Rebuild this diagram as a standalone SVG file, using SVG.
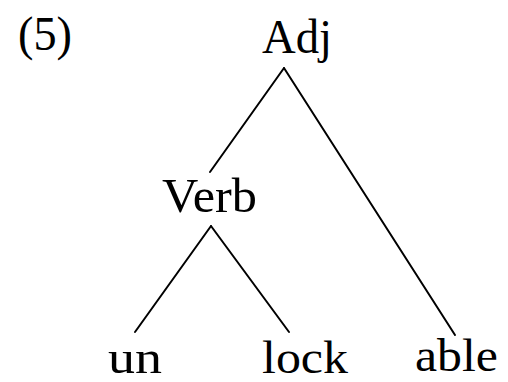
<svg xmlns="http://www.w3.org/2000/svg" width="508" height="382" viewBox="0 0 508 382">
  <style>
    text { font-family: "Liberation Serif", "DejaVu Serif", serif; font-size: 48px; fill: #000; }
    .leaf { font-size: 46px; }
    .edge { stroke: #000; stroke-width: 2; stroke-linecap: round; fill: none; }
  </style>
  <rect width="508" height="382" fill="#fff"/>
  <text id="label" x="18" y="50" font-size="44" textLength="54" lengthAdjust="spacingAndGlyphs">(5)</text>
  <g id="edges">
    <line class="edge" x1="284" y1="68" x2="210" y2="172"/>
    <line class="edge" x1="284" y1="68" x2="455" y2="335"/>
    <line class="edge" x1="211" y1="226" x2="135" y2="332"/>
    <line class="edge" x1="211" y1="226" x2="289" y2="332"/>
  </g>
  <g id="adj"><text x="262" y="53" textLength="70" lengthAdjust="spacingAndGlyphs">Adj</text></g>
  <g id="verb"><text x="162" y="212" textLength="95" lengthAdjust="spacingAndGlyphs">Verb</text></g>
  <g id="un"><text class="leaf" x="108" y="373" textLength="54" lengthAdjust="spacingAndGlyphs">un</text></g>
  <g id="lock"><text class="leaf" x="262" y="373" textLength="86" lengthAdjust="spacingAndGlyphs">lock</text></g>
  <g id="able"><text class="leaf" x="415" y="371" textLength="83" lengthAdjust="spacingAndGlyphs">able</text></g>
</svg>
